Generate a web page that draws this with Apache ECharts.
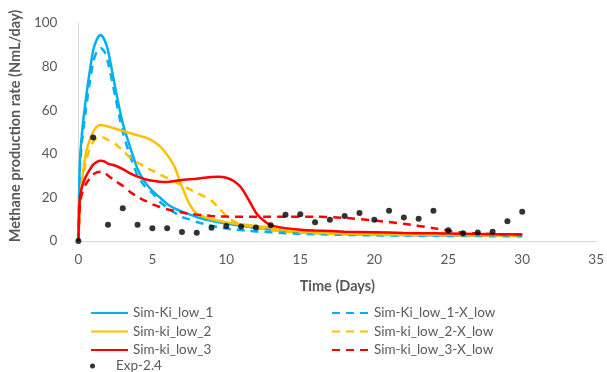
<!DOCTYPE html>
<html>
<head>
<meta charset="utf-8">
<script src="https://cdn.jsdelivr.net/npm/echarts@6/dist/echarts.min.js"></script>
<style>
html,body{margin:0;padding:0;background:#fff;}
#chart{width:607px;height:372px;}
</style>
</head>
<body>
<div id="chart"></div>
<script>
// Time grid (days) for the simulation curves
var simDays = [0, 0.1, 0.25, 0.5, 0.75, 1, 1.25, 1.5, 1.75, 2, 2.5, 3, 3.5, 4, 4.5, 5, 5.5, 6, 6.5, 7, 7.5, 8, 8.5, 9, 9.5, 10, 10.5, 11, 11.5, 12, 12.5, 13, 14, 15, 16, 18, 20, 22, 24, 26, 28, 30];

var simKiLow1 = [0, 36, 50, 65, 77, 87.5, 92.5, 94.5, 92.5, 87.5, 70, 54, 43, 33, 27, 23, 20, 17, 15, 13.5, 12.2, 11, 10, 9.3, 8.6, 8, 7.5, 7, 6.5, 6, 5.6, 5.3, 4.6, 4.1, 3.7, 3.2, 2.9, 2.7, 2.6, 2.5, 2.4, 2.3];
var simKiLow1X = [0, 33, 46, 60, 72, 82, 87, 88.5, 87, 82, 66, 50, 39, 30, 25, 22, 18, 15.3, 13, 11, 9.9, 8.7, 7.8, 7, 6.3, 5.7, 5.3, 5, 4.7, 4.4, 4.2, 4, 3.6, 3.3, 3.1, 2.8, 2.6, 2.5, 2.4, 2.3, 2.2, 2.2];
var simKiLow2 = [0, 18, 28, 40, 46, 50, 52.5, 53.2, 53, 52.5, 51.5, 50.5, 49.5, 48.5, 47.5, 46, 43.5, 39.5, 34, 25, 17, 12.5, 11, 10, 9.2, 8.6, 8, 7.6, 7.3, 6.9, 6.5, 6, 5, 4.3, 3.9, 3.4, 3.2, 3, 2.9, 2.8, 2.7, 2.7];
var simKiLow2X = [0, 15, 25, 36, 42, 45.5, 47.3, 47.8, 47.3, 46.3, 44.5, 41.5, 38.3, 36, 34, 32.3, 30.5, 29, 27.3, 25.5, 23.8, 22, 20.5, 18.5, 15, 11.5, 9, 7.7, 6.8, 6.2, 5.6, 5, 4.3, 3.8, 3.5, 3.1, 2.9, 2.8, 2.7, 2.6, 2.5, 2.5];
var simKiLow3 = [0, 20, 25, 29.5, 32.5, 35, 36.3, 36.8, 36.5, 35.5, 34.5, 33, 31, 29.5, 28.3, 27.6, 27.2, 27.1, 27.5, 28, 28.3, 28.6, 29, 29.4, 29.5, 29, 27.5, 24.5, 19, 13, 9.5, 7.3, 5.9, 5.2, 4.8, 4.3, 4, 3.7, 3.5, 3.3, 3.1, 3];
var simKiLow3X = [0, 17, 22, 26, 28.5, 30.5, 31.5, 31.8, 31.5, 30, 27.5, 25.3, 22.5, 20.3, 18.5, 16.8, 15.6, 14.6, 13.8, 13.1, 12.5, 12.1, 11.8, 11.5, 11.3, 11.2, 11.1, 11.1, 11.1, 11.1, 11.1, 11.1, 11.1, 11.1, 11.1, 10.6, 9.4, 7.9, 5.9, 3.8, 3.2, 3];

// Experimental data
var expDays = [0, 1, 2, 3, 4, 5, 6, 7, 8, 9, 10, 11, 12, 13, 14, 15, 16, 17, 18, 19, 20, 21, 22, 23, 24, 25, 26, 27, 28, 29, 30];
var exp24 = [0, 47.5, 7.5, 15, 7.5, 5.8, 5.8, 4.1, 3.8, 6.1, 6.9, 6.6, 6.2, 7.2, 12, 12.3, 8.6, 9.7, 11.5, 12.8, 9.7, 13.9, 10.8, 10.2, 13.9, 4.9, 3.6, 3.9, 4.3, 9.1, 13.4];

var xTicks = [0, 5, 10, 15, 20, 25, 30, 35];
var yTicks = [0, 20, 40, 60, 80, 100];

function pairs(xs, ys) { return xs.map(function (x, i) { return [x, ys[i]]; }); }

var FONT = 'Lato, Carlito, "Liberation Sans", sans-serif';
var BLUE = '#00B0F0', YEL = '#FFC000', RED = '#FF0000';

function simSeries(name, data, color, dashed, z) {
  return {
    name: name, type: 'line', data: pairs(simDays, data), symbol: 'none', showSymbol: false, smooth: 0.25,
    z: z,
    lineStyle: { color: color, width: 2.5, type: dashed ? [8, 6] : 'solid' },
    itemStyle: { color: color }
  };
}

var chart = echarts.init(document.getElementById('chart'), null, { renderer: 'canvas' });
var legendText = { fontFamily: FONT, fontSize: 13.5, color: '#595959' };
chart.setOption({
  animation: false,
  backgroundColor: '#ffffff',
  grid: { left: 77, right: 10, top: 23, bottom: 131, containLabel: false },
  xAxis: {
    type: 'value', min: xTicks[0], max: xTicks[xTicks.length - 1], interval: 5,
    name: 'Time (Days)', nameLocation: 'middle', nameGap: 38,
    nameTextStyle: { fontFamily: FONT, fontSize: 14.5, fontWeight: 'bold', color: '#595959' },
    axisLine: { show: true, lineStyle: { color: '#D9D9D9', width: 1 } },
    axisTick: { show: false },
    splitLine: { show: false },
    axisLabel: { fontFamily: FONT, fontSize: 13.5, color: '#595959', margin: 12 }
  },
  yAxis: {
    type: 'value', min: yTicks[0], max: yTicks[yTicks.length - 1], interval: 20,
    name: 'Methane production rate (NmL/day)', nameLocation: 'middle', nameGap: 48,
    nameTextStyle: { fontFamily: FONT, fontSize: 14.5, fontWeight: 'bold', color: '#595959', padding: [0, 0, 0, 12] },
    axisLine: { show: true, lineStyle: { color: '#D9D9D9', width: 1 } },
    axisTick: { show: false },
    splitLine: { show: false },
    axisLabel: { fontFamily: FONT, fontSize: 13.5, color: '#595959', margin: 21 }
  },
  legend: [
    {
      orient: 'vertical', left: 85, top: 301, itemWidth: 37, itemHeight: 14, itemGap: 4.5, itemTextGap: 5,
      textStyle: legendText, itemStyle: { opacity: 0 },
      data: ['Sim-Ki_low_1', 'Sim-ki_low_2', 'Sim-ki_low_3']
    },
    {
      orient: 'vertical', left: 326, top: 301, itemWidth: 37, itemHeight: 14, itemGap: 4.5, itemTextGap: 5,
      textStyle: legendText, itemStyle: { opacity: 0 },
      data: ['Sim-Ki_low_1-X_low', 'Sim-ki_low_2-X_low', 'Sim-ki_low_3-X_low']
    },
    {
      orient: 'vertical', left: 85, top: 354, itemWidth: 37, itemHeight: 5, itemGap: 5, itemTextGap: 5,
      textStyle: legendText,
      data: [{ name: 'Exp-2.4', icon: 'circle' }]
    }
  ],
  series: [
    simSeries('Sim-Ki_low_1', simKiLow1, BLUE, false, 2),
    simSeries('Sim-Ki_low_1-X_low', simKiLow1X, BLUE, true, 2),
    simSeries('Sim-ki_low_2', simKiLow2, YEL, false, 2),
    simSeries('Sim-ki_low_2-X_low', simKiLow2X, YEL, true, 2),
    simSeries('Sim-ki_low_3', simKiLow3, RED, false, 2),
    simSeries('Sim-ki_low_3-X_low', simKiLow3X, RED, true, 2),
    {
      name: 'Exp-2.4', type: 'scatter', data: pairs(expDays, exp24), symbol: 'circle', symbolSize: 6,
      z: 5, itemStyle: { color: '#000000' }
    }
  ]
});
</script>
</body>
</html>
